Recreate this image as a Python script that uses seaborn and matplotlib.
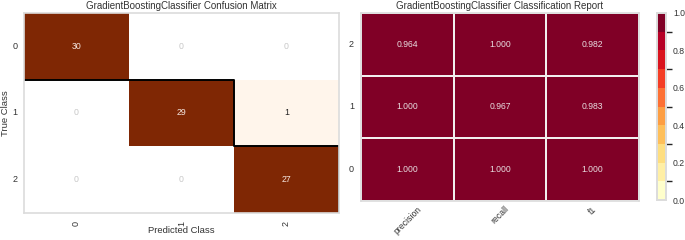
import numpy as np
import pandas as pd
import matplotlib
matplotlib.use("Agg")
import matplotlib.pyplot as plt
from matplotlib.colors import ListedColormap, BoundaryNorm
import seaborn as sns

classes = ["0", "1", "2"]
confusion = [[30, 0, 0],
             [0, 29, 1],
             [0, 0, 27]]
metrics = ["precision", "recall", "f1"]
report_rows = ["2", "1", "0"]
report_vals = [[0.964, 1.000, 0.982],
               [1.000, 0.967, 0.983],
               [1.000, 1.000, 1.000]]

sns.set_theme(style="white")
plt.rcParams["font.family"] = ["Liberation Sans", "DejaVu Sans"]
TXT = "#333333"
EDGE = "#dcdcdc"

fig = plt.figure(figsize=(6.85, 2.4), dpi=100)
ax1 = fig.add_axes([24/685, 1-213/240, (339-24)/685, (213-13)/240])
ax2 = fig.add_axes([361/685, 1-200.5/240, (639-361)/685, (200.5-13)/240])
cax = fig.add_axes([657/685, 1-200/240, (666-657)/685, (200-13)/240])

# Confusion matrix
cm = pd.DataFrame(confusion, index=classes, columns=classes)
mask = cm.values == 0
sns.heatmap(cm, ax=ax1, mask=mask, cmap="Oranges", vmin=1, vmax=26,
            cbar=False, annot=False)
n = len(classes)
for i in range(n):
    for j in range(n):
        v = cm.values[i, j]
        if v == 0:
            c = "#c8c8c8"
        elif v > 15:
            c = "#f5e6e0"
        else:
            c = "#222222"
        ax1.text(j + 0.5, i + 0.5, str(v), ha="center", va="center",
                 fontsize=6.3, color=c)
# staircase along the diagonal
ax1.step([0] + list(range(1, n + 1)), [1] + list(range(1, n + 1)),
         where="post", color="black", lw=1.4)
ax1.set_title("GradientBoostingClassifier Confusion Matrix", fontsize=7, color=TXT, pad=3)
ax1.set_xlabel("Predicted Class", fontsize=6.8, color=TXT, labelpad=0)
ax1.set_ylabel("True Class", fontsize=6.8, color=TXT, labelpad=2)
ax1.set_xticklabels(classes, rotation=90, fontsize=6.5, color=TXT)
ax1.set_yticklabels(classes, rotation=0, fontsize=6.5, color=TXT)
ax1.tick_params(axis="y", length=0, pad=4.5)
ax1.tick_params(axis="x", length=0, pad=6)
for s in ax1.spines.values():
    s.set_visible(True)
    s.set_color(EDGE)
    s.set_linewidth(1.2)

# Classification report
rep = pd.DataFrame(report_vals, index=report_rows, columns=metrics)
cmap = ListedColormap(plt.get_cmap("YlOrRd")(np.linspace(0, 1, 10)))
norm = BoundaryNorm(np.linspace(0, 1, 11), cmap.N)
sns.heatmap(rep, ax=ax2, cmap=cmap, norm=norm, annot=True, fmt=".3f",
            annot_kws={"fontsize": 6.2, "color": "#e8dde0"},
            linewidths=1.2, linecolor="#f2eeee", cbar_ax=cax)
ax2.set_title("GradientBoostingClassifier Classification Report", fontsize=7, color=TXT, pad=3)
ax2.set_xticklabels(metrics, rotation=45, ha="center", fontsize=6.2, color=TXT)
ax2.set_yticklabels(report_rows, rotation=0, fontsize=6.5, color=TXT)
ax2.tick_params(axis="y", length=0, pad=5)
ax2.tick_params(axis="x", length=0, pad=3)
for s in ax2.spines.values():
    s.set_visible(True)
    s.set_color(EDGE)
    s.set_linewidth(1.2)
cax.tick_params(length=0, labelsize=6.2, labelcolor=TXT, pad=5)
cax.set_yticks([0, 0.2, 0.4, 0.6, 0.8, 1.0])
cax.set_yticklabels(["0.0", "0.2", "0.4", "0.6", "0.8", "1.0"])
for s in cax.spines.values():
    s.set_visible(True)
    s.set_color(EDGE)
    s.set_linewidth(1.2)

fig.savefig("out.png", dpi=100)
